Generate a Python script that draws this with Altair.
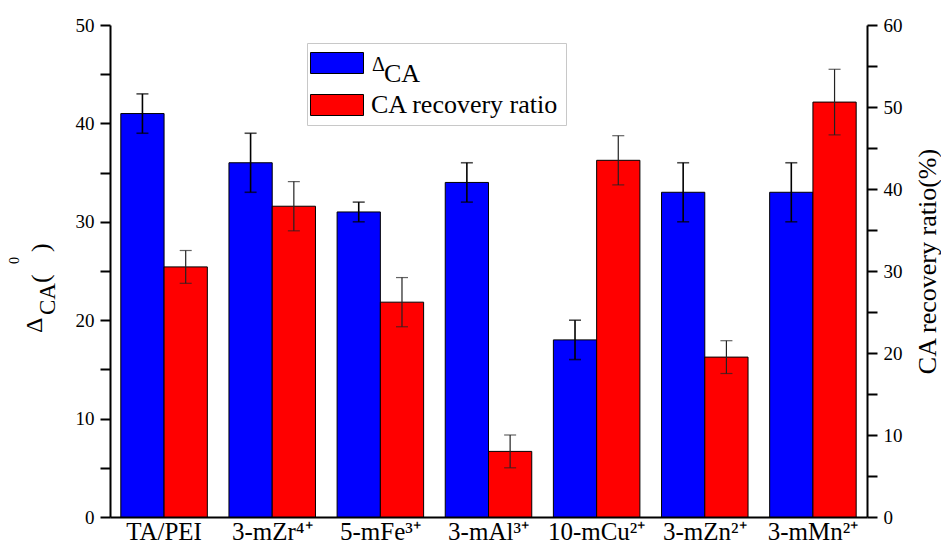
import altair as alt
import pandas as pd

FONT = "Liberation Serif"

categories = ["TA/PEI", "3-mZr⁴⁺", "5-mFe³⁺", "3-mAl³⁺", "10-mCu²⁺", "3-mZn²⁺", "3-mMn²⁺"]
series_names = ["ΔCA", "CA recovery ratio"]
delta_ca = [41, 36, 31, 34, 18, 33, 33]
delta_ca_err = [2, 3, 1, 2, 2, 3, 3]
recovery = [30.5, 37.9, 26.2, 8.0, 43.5, 19.5, 50.6]
recovery_err = [2, 3, 3, 2, 3, 2, 4]

df_a = pd.DataFrame({
    "category": categories,
    "series": series_names[0],
    "value": delta_ca,
    "lo": [v - e for v, e in zip(delta_ca, delta_ca_err)],
    "hi": [v + e for v, e in zip(delta_ca, delta_ca_err)],
})
df_b = pd.DataFrame({
    "category": categories,
    "series": series_names[1],
    "value": recovery,
    "lo": [v - e for v, e in zip(recovery, recovery_err)],
    "hi": [v + e for v, e in zip(recovery, recovery_err)],
})

x_enc = alt.X(
    "category:N", sort=categories,
    scale=alt.Scale(paddingInner=0.2, paddingOuter=0.1),
    axis=alt.Axis(title=None, labelAngle=0, labelFont=FONT, labelFontSize=25,
                  labelColor="black", ticks=False, domainColor="black",
                  domainWidth=2, labelPadding=2),
)
xo_enc = alt.XOffset("series:N", sort=series_names, scale=alt.Scale(domain=series_names))

color_enc = alt.Color(
    "series:N",
    scale=alt.Scale(domain=series_names, range=["#0000FF", "#FF0000"]),
    legend=alt.Legend(
        orient="none", legendX=197, legendY=18, title=None,
        symbolType="M-2.524,-1H2.524V1H-2.524Z", symbolSize=441,
        symbolOffset=10,
        symbolStrokeColor="black", symbolStrokeWidth=1, symbolOpacity=1,
        labelFont=FONT, labelFontSize=26, labelColor="black",
        labelExpr="datum.value == 'ΔCA' ? '' : datum.label",
        labelLimit=400, labelOffset=21,
        strokeColor="#c8c8c8", padding=7, rowPadding=16,
    ),
)

left_axis = alt.Axis(
    orient="left", values=list(range(0, 51, 5)),
    labelExpr="datum.value % 10 == 0 ? datum.label : ''",
    title=None, grid=False, tickSize=10, tickWidth=2, tickColor="black",
    domainColor="black", domainWidth=2, labelFont=FONT, labelFontSize=19,
    labelColor="black", labelPadding=6,
)
right_axis = alt.Axis(
    orient="right", values=list(range(0, 61, 5)),
    labelExpr="datum.value % 10 == 0 ? datum.label : ''",
    title="CA recovery ratio(%)", titleAngle=270, titleX=68, titleY=236,
    titleAlign="center", titleBaseline="alphabetic", titleFont=FONT,
    titleFontSize=26, titleFontWeight="normal", titleColor="black",
    grid=False, tickSize=10, tickWidth=2, tickColor="black",
    domainColor="black", domainWidth=2, labelFont=FONT, labelFontSize=19,
    labelColor="black", labelPadding=6,
)


def side(df, domain, axis, err_color, err_width):
    base = alt.Chart(df)
    ysc = alt.Scale(domain=domain, nice=False)
    bars = base.mark_bar(stroke="black", strokeWidth=1).encode(
        x=x_enc, xOffset=xo_enc,
        y=alt.Y("value:Q", scale=ysc, axis=axis),
        color=color_enc,
    )
    rule = base.mark_rule(color=err_color, strokeWidth=err_width).encode(
        x=x_enc, xOffset=xo_enc,
        y=alt.Y("lo:Q", scale=ysc, axis=axis), y2="hi:Q",
    )
    cap_lo = base.mark_tick(color=err_color, thickness=err_width, size=12).encode(
        x=x_enc, xOffset=xo_enc, y=alt.Y("lo:Q", scale=ysc, axis=axis),
    )
    cap_hi = base.mark_tick(color=err_color, thickness=err_width, size=12).encode(
        x=x_enc, xOffset=xo_enc, y=alt.Y("hi:Q", scale=ysc, axis=axis),
    )
    return alt.layer(bars, rule, cap_lo, cap_hi)


left = side(df_a, [0, 50], left_axis, "black", 1.6)
right = side(df_b, [0, 60], right_axis, "#222222", 1.2)


def label(text, x, y, size, angle=0):
    return alt.Chart(pd.DataFrame({"t": [text]})).mark_text(
        font=FONT, fontSize=size, color="black", align="left",
        baseline="alphabetic", angle=angle,
    ).encode(text="t:N", x=alt.value(x), y=alt.value(y))


# y-axis title  Δ_CA(⁰)
title_parts = [
    label("Δ", -68, 308, 24, 270),
    label("CA", -55, 290, 23, 270),
    label("(", -61, 258, 26, 270),
    label("0", -91, 239, 14, 270),
    label(")", -61, 227, 26, 270),
]
# legend label Δ_CA
legend_parts = [
    label("Δ", 262, 46, 20),
    label("CA", 274, 57, 26),
]

chart = alt.layer(left, right, *title_parts, *legend_parts).resolve_scale(
    y="independent"
).properties(
    width=757, height=492,
    autosize=alt.AutoSizeParams(type="none"),
    padding={"left": 102, "top": 17, "right": 74, "bottom": 29},
    background="white",
).configure_view(stroke=None)

chart.save("out.html", embed_options={"renderer": "svg", "actions": False})
